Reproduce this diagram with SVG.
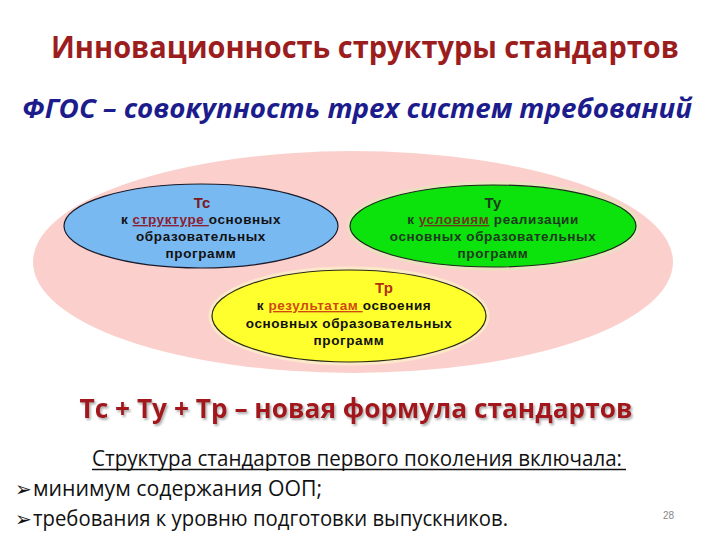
<svg xmlns="http://www.w3.org/2000/svg" width="720" height="540" viewBox="0 0 720 540">
<style>
.node{font-family:"Liberation Sans",Arial,sans-serif;font-weight:bold;font-size:13.5px;letter-spacing:0.6px;text-anchor:middle;fill:#111}
.hd{font-size:15px;letter-spacing:0}
.ul{text-decoration:underline}
.body{font-family:"Open Sans","Liberation Sans",sans-serif;font-size:21px;fill:#111}
.arr{font-family:"DejaVu Sans",sans-serif;font-size:20px;fill:#111}
</style>
<defs>
<filter id="sh" x="-5%" y="-20%" width="110%" height="150%">
<feDropShadow dx="1.5" dy="2" stdDeviation="1" flood-color="#999" flood-opacity="0.8"/>
</filter>
</defs>
<rect width="720" height="540" fill="#ffffff"/>
<text x="365" y="58" font-family="'Open Sans','Liberation Sans',sans-serif" font-weight="bold" font-size="30" fill="#9b1d1d" text-anchor="middle" textLength="628" lengthAdjust="spacingAndGlyphs">Инновационность структуры стандартов</text>
<text x="357" y="118" font-family="'Open Sans','Liberation Sans',sans-serif" font-weight="bold" font-style="italic" font-size="27" fill="#1c1c8c" text-anchor="middle" textLength="670" lengthAdjust="spacingAndGlyphs">ФГОС – совокупность трех систем требований</text>
<g id="outer"><ellipse cx="353" cy="262" rx="320" ry="111" fill="#fbd0cc"/></g>
<g id="connectors"></g>
<g id="tc">
<ellipse cx="201" cy="226" rx="137" ry="42" fill="#79b9f2" stroke="#1a1a2a" stroke-width="1.2"/>
<text class="node hd" x="202" y="208" style="fill:#7a1a20">Тс</text>
<text class="node" x="201" y="224"><tspan>к </tspan><tspan class="ul" style="fill:#8a2030">структуре </tspan><tspan>основных</tspan></text>
<text class="node" x="201" y="241">образовательных</text>
<text class="node" x="201" y="258">программ</text>
</g>
<g id="ty">
<ellipse cx="493" cy="226" rx="143" ry="41" fill="none" stroke="#eae0c0" stroke-width="7"/>
<ellipse cx="493" cy="226" rx="143" ry="41" fill="#0ce20c" stroke="#1a2a1a" stroke-width="1.2"/>
<text class="node hd" x="493" y="208" style="fill:#1e3a1e">Ту</text>
<text class="node" x="493" y="224" style="fill:#1e3a1e"><tspan>к </tspan><tspan class="ul" style="fill:#6a3a20">условиям</tspan><tspan> реализации</tspan></text>
<text class="node" x="493" y="241" style="fill:#1e3a1e">основных образовательных</text>
<text class="node" x="493" y="258" style="fill:#1e3a1e">программ</text>
</g>
<g id="tr">
<ellipse cx="349" cy="316" rx="137" ry="46" fill="none" stroke="#fbe8c8" stroke-width="7"/>
<ellipse cx="349" cy="316" rx="137" ry="46" fill="#ffff2e" stroke="#2a2a10" stroke-width="1.2"/>
<text class="node hd" x="384" y="293" style="fill:#b0300e">Тр</text>
<text class="node" x="344" y="310"><tspan>к </tspan><tspan class="ul" style="fill:#d04a10">результатам </tspan><tspan>освоения</tspan></text>
<text class="node" x="349" y="328">основных образовательных</text>
<text class="node" x="349" y="345">программ</text>
</g>
<text x="356" y="418" filter="url(#sh)" font-family="'Open Sans','Liberation Sans',sans-serif" font-weight="bold" font-size="27" fill="#a3181c" text-anchor="middle" textLength="553" lengthAdjust="spacingAndGlyphs">Тс + Ту + Тр – новая формула стандартов</text>
<text class="body" x="92" y="466" textLength="530" lengthAdjust="spacingAndGlyphs">Структура стандартов первого поколения включала:</text>
<line x1="92" y1="469.5" x2="626" y2="469.5" stroke="#111" stroke-width="1.3"/>
<text class="arr" x="15" y="496">➢</text>
<text class="body" x="33" y="496" textLength="289" lengthAdjust="spacingAndGlyphs">минимум содержания ООП;</text>
<text class="arr" x="15" y="526">➢</text>
<text class="body" x="33" y="526" textLength="475" lengthAdjust="spacingAndGlyphs">требования к уровню подготовки выпускников.</text>
<text x="663" y="519" font-family="'Liberation Sans',sans-serif" font-size="10" fill="#888">28</text>
</svg>
